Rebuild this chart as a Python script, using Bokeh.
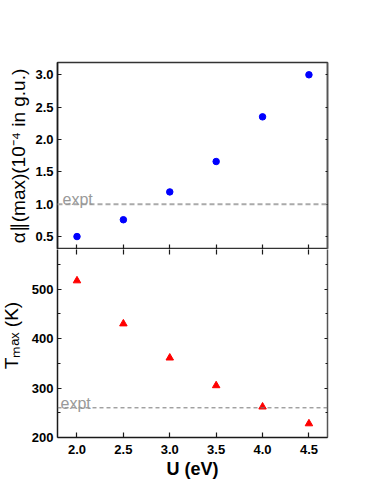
from bokeh.plotting import figure
from bokeh.layouts import column
from bokeh.models import Range1d, LinearAxis, Label, Span, FixedTicker, NumeralTickFormatter
from bokeh.embed import file_html
from bokeh.resources import INLINE

# ---- data ----
U = [2.0, 2.5, 3.0, 3.5, 4.0, 4.5]
alpha_max = [0.50, 0.76, 1.19, 1.66, 2.35, 3.00]
T_max = [517, 430, 361, 305, 262, 228]
alpha_expt = 1.0
T_expt = 260
x_ticks = [2.0, 2.5, 3.0, 3.5, 4.0, 4.5]
alpha_ticks = [0.5, 1.0, 1.5, 2.0, 2.5, 3.0]
T_ticks = [200, 300, 400, 500]
T_minor = [250, 350, 450, 550]

FONT = "Liberation Sans"
W = 373
H_TOP = 249
H_BOT = 235
LEFT = 64
AX = "#1a1a1a"


def hide_labels(ax):
    ax.major_label_text_font_size = "0px"
    ax.major_label_standoff = 0
    ax.major_label_text_alpha = 0


def style_axis(ax, tick_in=4, minor_in=0):
    ax.axis_line_color = AX
    ax.axis_line_width = 1.5
    ax.major_tick_line_color = AX
    ax.major_tick_line_width = 1.2
    ax.minor_tick_line_color = AX
    ax.minor_tick_line_width = 1.2
    ax.major_tick_in = tick_in
    ax.major_tick_out = 0
    ax.minor_tick_in = minor_in
    ax.minor_tick_out = 0
    ax.major_label_text_font = FONT
    ax.major_label_text_font_style = "bold"
    ax.major_label_text_font_size = "13px"
    ax.major_label_text_color = "black"


def style_title(ax, standoff):
    ax.axis_label_text_font = FONT
    ax.axis_label_text_font_style = "normal"
    ax.axis_label_text_font_size = "19px"
    ax.axis_label_text_color = "black"
    ax.axis_label_standoff = standoff


# ---- top panel ----
p1 = figure(width=W, height=H_TOP, x_range=Range1d(1.79, 4.70), y_range=Range1d(0.30, 3.19),
            output_backend="svg", toolbar_location=None,
            min_border_left=LEFT, min_border_right=39, min_border_top=62, min_border_bottom=0)
p1.grid.visible = False
p1.outline_line_color = "#333333"
p1.outline_line_width = 1.5

style_axis(p1.yaxis[0], 4)
p1.yaxis[0].ticker = FixedTicker(ticks=alpha_ticks)
p1.yaxis[0].formatter = NumeralTickFormatter(format="0.0")
p1.yaxis[0].major_label_standoff = 4
p1.yaxis[0].axis_label = "\u03b1\u2225(max)(10\u207b\u2074 in g.u.)"
style_title(p1.yaxis[0], 3)

style_axis(p1.xaxis[0], 5)
p1.xaxis[0].ticker = FixedTicker(ticks=x_ticks)
p1.xaxis[0].axis_line_color = None
hide_labels(p1.xaxis[0])

r1 = LinearAxis(ticker=FixedTicker(ticks=alpha_ticks))
style_axis(r1, 2)
r1.axis_line_color = "#555555"
hide_labels(r1)
p1.add_layout(r1, "right")

p1.add_layout(Span(location=alpha_expt, dimension="width", line_color="#aaaaaa",
                   line_width=2, line_dash="5 3"))
p1.scatter(U, alpha_max, marker="circle", size=6.5, fill_color="#0000ff", line_color="#0000ff")
p1.add_layout(Label(x=1.79, y=alpha_expt, x_offset=5, y_offset=5, text="expt",
                    text_font=FONT, text_font_size="16px", text_color="#999999",
                    text_baseline="alphabetic"))

# ---- bottom panel ----
p2 = figure(width=W, height=H_BOT, x_range=p1.x_range, y_range=Range1d(200, 580),
            output_backend="svg", toolbar_location=None,
            min_border_left=LEFT, min_border_right=39, min_border_top=0, min_border_bottom=47)
p2.grid.visible = False
p2.outline_line_color = None

style_axis(p2.yaxis[0], 4, 3)
p2.yaxis[0].ticker = FixedTicker(ticks=T_ticks, minor_ticks=T_minor)
p2.yaxis[0].major_label_standoff = 4
p2.yaxis[0].axis_label = "\u00a0\u00a0\u00a0T\u2098\u2090\u2093 (K)"
style_title(p2.yaxis[0], 7)

style_axis(p2.xaxis[0], 5)
p2.xaxis[0].ticker = FixedTicker(ticks=x_ticks)
p2.xaxis[0].formatter = NumeralTickFormatter(format="0.0")
p2.xaxis[0].major_label_standoff = 7
p2.xaxis[0].axis_label = "U (eV)"
p2.xaxis[0].axis_label_text_font = FONT
p2.xaxis[0].axis_label_text_font_style = "bold"
p2.xaxis[0].axis_label_text_font_size = "18px"
p2.xaxis[0].axis_label_text_color = "black"
p2.xaxis[0].axis_label_standoff = 2

a2 = LinearAxis(ticker=FixedTicker(ticks=x_ticks))
style_axis(a2, 5)
a2.axis_line_color = None
hide_labels(a2)
p2.add_layout(a2, "above")

r2 = LinearAxis(ticker=FixedTicker(ticks=T_ticks, minor_ticks=T_minor))
style_axis(r2, 3, 2)
r2.axis_line_color = "#555555"
hide_labels(r2)
p2.add_layout(r2, "right")

p2.add_layout(Span(location=T_expt, dimension="width", line_color="#777777",
                   line_width=1, line_dash="4 3"))
p2.scatter(U, T_max, marker="triangle", size=7.5, fill_color="#ff0000", line_color="#ff0000")
p2.add_layout(Label(x=1.79, y=T_expt, x_offset=3, y_offset=4, text="expt",
                    text_font=FONT, text_font_size="16px", text_color="#999999",
                    text_baseline="alphabetic"))

layout = column(p1, p2, spacing=0, margin=(0, 0, 0, -7))
open("out.html", "w").write(file_html(layout, INLINE))
